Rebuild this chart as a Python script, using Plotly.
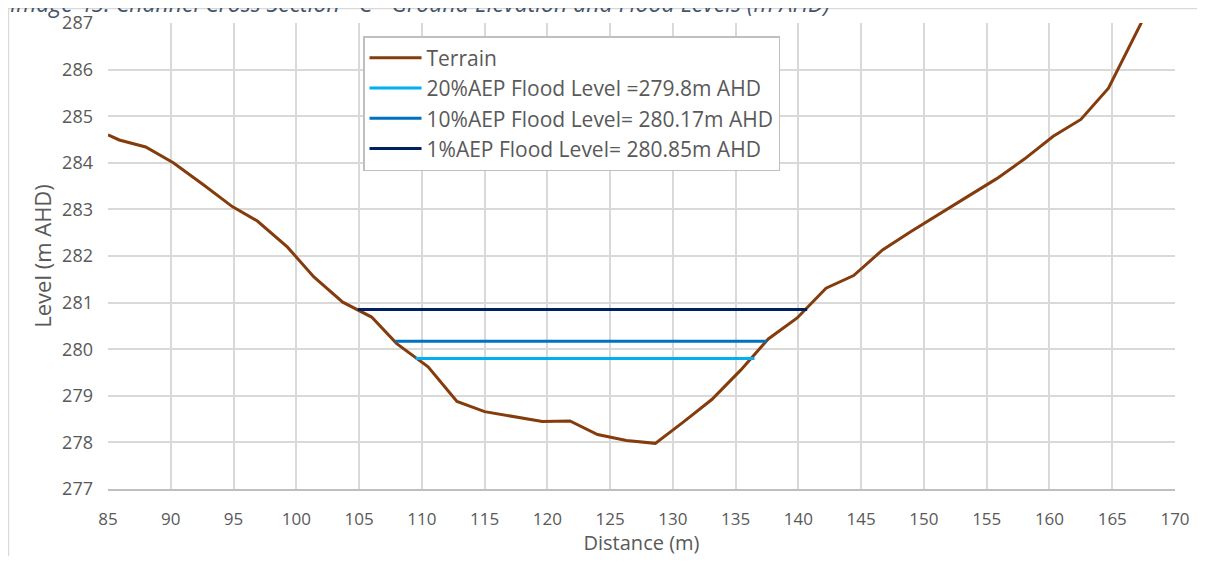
import plotly.graph_objects as go

# terrain profile
dist = [85, 85.9, 88, 90.2, 92.6, 94.9, 96.9, 99.3, 101.4, 103.7, 106.0, 108.0, 110.5,
        112.8, 115.0, 117.3, 119.6, 121.8, 124.0, 126.3, 128.6, 130.8, 133.1, 135.4,
        137.6, 139.9, 142.2, 144.4, 146.7, 149.0, 151.3, 153.5, 155.8, 158.0, 160.3,
        162.5, 164.7, 166.8, 167.4]
level = [284.6, 284.49, 284.34, 284.0, 283.53, 283.06, 282.75, 282.19, 281.55, 281.01,
         280.69, 280.12, 279.62, 278.88, 278.66, 278.56, 278.45, 278.46, 278.17, 278.04,
         277.98, 278.43, 278.92, 279.55, 280.22, 280.67, 281.31, 281.58, 282.13, 282.53,
         282.92, 283.28, 283.66, 284.08, 284.57, 284.93, 285.6, 286.75, 287.05]

# flood levels (name, level, start, end)
flood_names = ["20%AEP Flood Level =279.8m AHD", "10%AEP Flood Level= 280.17m AHD",
               "1%AEP Flood Level= 280.85m AHD"]
flood_levels = [279.8, 280.17, 280.85]
flood_x0 = [109.5, 107.9, 104.9]
flood_x1 = [136.5, 137.5, 140.7]
flood_colors = ["#00B0F0", "#0070C0", "#002060"]

FONT = "Open Sans"
GRID = "#D9D9D9"

fig = go.Figure()
fig.add_trace(go.Scatter(x=dist, y=level, name="Terrain", mode="lines",
                         line=dict(color="#843C0C", width=3)))
for n, lv, a, b, c in zip(flood_names, flood_levels, flood_x0, flood_x1, flood_colors):
    fig.add_trace(go.Scatter(x=[a, b], y=[lv, lv], name=n, mode="lines",
                             line=dict(color=c, width=3)))

# outer chart frame (runs off right and bottom)
fig.add_shape(type="rect", xref="paper", yref="paper",
              x0=-0.0933, x1=1.06, y0=-0.2, y1=1.0311,
              line=dict(color=GRID, width=1.5), layer="below")

# cropped caption above the chart
fig.add_annotation(xref="paper", yref="paper", x=-0.0937, y=1.043, xanchor="left",
                   yanchor="middle", showarrow=False,
                   text="<i>Image 45: Channel Cross Section - C - Ground Elevation and Flood Levels (m AHD)</i>",
                   font=dict(family=FONT, size=23, color="#44546A"))

fig.update_layout(
    width=1189, height=548,
    margin=dict(l=100, r=22, t=15, b=67, pad=0),
    paper_bgcolor="white", plot_bgcolor="white",
    font=dict(family=FONT, size=17, color="#595959"),
    showlegend=True,
    legend=dict(x=0.239, y=0.972, xanchor="left", yanchor="top",
                bgcolor="white", bordercolor="#BFBFBF", borderwidth=1.5,
                font=dict(family=FONT, size=21, color="#595959"),
                tracegroupgap=0, itemwidth=52),
    xaxis=dict(range=[85, 170], dtick=5, tick0=85, showgrid=True, gridcolor=GRID,
               gridwidth=1.5, zeroline=False, showline=True, linecolor="#BFBFBF",
               linewidth=1.5, ticklabelstandoff=14, automargin=False,
               tickfont=dict(family=FONT, size=17, color="#595959"),
               title=dict(text="Distance (m)", standoff=6,
                          font=dict(family=FONT, size=20, color="#595959"))),
    yaxis=dict(range=[277, 287], dtick=1, showgrid=True, gridcolor=GRID, gridwidth=1.5,
               zeroline=False, showline=False, ticklabelstandoff=14, automargin=False,
               tickfont=dict(family=FONT, size=18, color="#595959"),
               title=dict(text="Level (m AHD)", standoff=4,
                          font=dict(family=FONT, size=22, color="#595959"))),
)

fig.write_html("out.html")
